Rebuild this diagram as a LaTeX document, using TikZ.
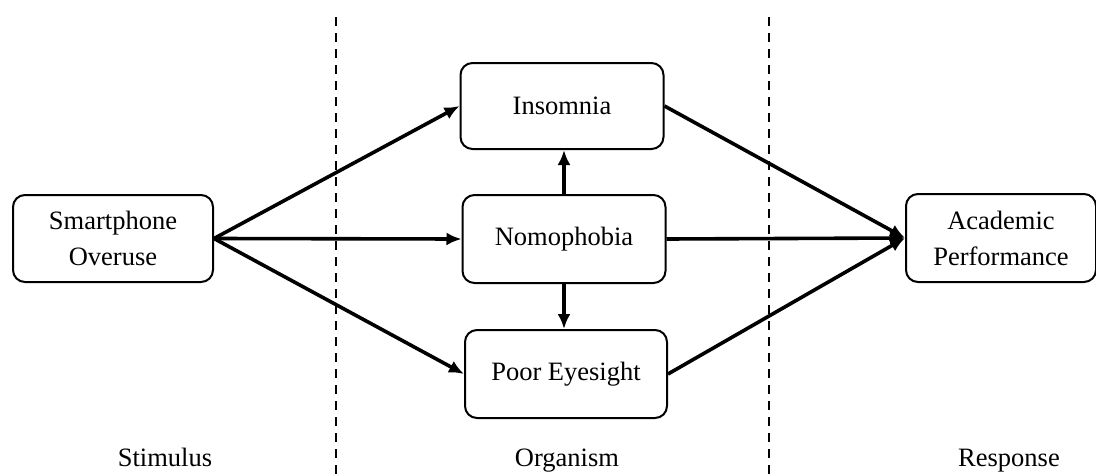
\documentclass[tikz,border=0pt]{standalone}
\usepackage{fontspec}
\setmainfont{Liberation Serif}
\usetikzlibrary{arrows.meta}
\begin{document}
\begin{tikzpicture}[x=1pt,y=-1pt,
  box/.style={draw, line width=2pt, rounded corners=12pt, rectangle,
    align=center, inner sep=0pt, font=\fontsize{26.5}{36}\selectfont},
  link/.style={line width=3.6pt, -{Latex[length=15pt,width=13pt]}},
  divider/.style={dashed, line width=1.7pt, dash pattern=on 9pt off 7pt},
  stage/.style={anchor=base, font=\fontsize{26.5}{32}\selectfont}]
  \useasboundingbox (0,0) rectangle (1096,474);

  % stage dividers
  \coordinate (d1t) at (336,17);
  \coordinate (d1b) at (336,480);
  \coordinate (d2t) at (769,17);
  \coordinate (d2b) at (769,480);
  \draw[divider] (d1t) -- (d1b);
  \draw[divider] (d2t) -- (d2b);

  % boxes
  \node[box, minimum width=200pt, minimum height=87pt] (smart) at (113,238.5) {Smartphone\\Overuse};
  \node[box, minimum width=203pt, minimum height=86pt] (ins) at (562,106) {Insomnia};
  \node[box, minimum width=203pt, minimum height=88pt] (nomo) at (564,239) {Nomophobia};
  \node[box, minimum width=202pt, minimum height=88pt] (poor) at (566,374) {Poor Eyesight};
  \node[box, minimum width=190pt, minimum height=88pt] (acad) at (1001,238) {Academic\\Performance};

  % stage labels
  \node[stage] (stim) at (165,466) {Stimulus};
  \node[stage] (org) at (567,466) {Organism};
  \node[stage] (resp) at (1009,466) {Response};

  % stimulus to organism
  \draw[link] (smart.east) -- (ins.west);
  \draw[link] (smart.east) -- (nomo.west);
  \draw[link] (smart.east) -- (poor.west);

  % within organism
  \draw[link] (nomo.north) -- (nomo.north |- ins.south);
  \draw[link] (nomo.south) -- (nomo.south |- poor.north);

  % organism to response
  \draw[link] (ins.east) -- (acad.west);
  \draw[link] (nomo.east) -- (acad.west);
  \draw[link] (poor.east) -- (acad.west);
\end{tikzpicture}
\end{document}
